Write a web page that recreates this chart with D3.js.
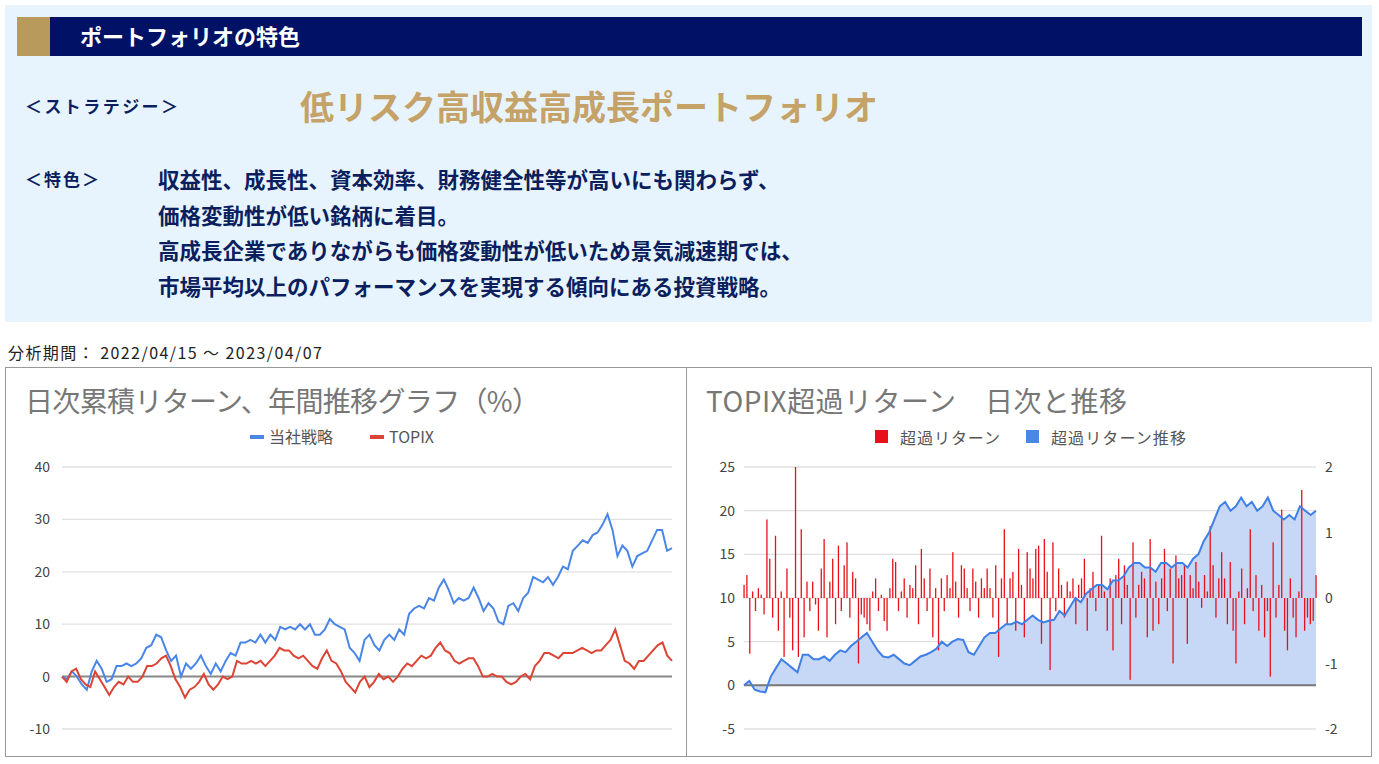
<!DOCTYPE html><html><head><meta charset="utf-8">
<script src="https://cdn.jsdelivr.net/npm/d3@7"></script>
<style>body{margin:0;background:#fff;font-family:"Noto Sans CJK JP",sans-serif}</style></head><body>
<svg id="s" width="1379" height="764"></svg>
<script>
const strategy=[0,-0.5,1,0,-1.5,-2.5,1,3,1.5,-1,-0.5,2,2,2.5,2,2.5,3.5,5.5,6,8,7.5,5,3,4,0,2.5,1.5,2.5,4,2,0.5,2.5,1,3,4.5,4,6.5,6.5,7,6.5,8,6.5,8,7,9.5,9,9.5,9,10,9,10,8,8,9,11,10,9.5,9,5.5,4.5,3,7,8,6,5,7,8,7,9,8,12,13,13.5,13,15,14.5,17,18.5,16.5,14,15,14.5,15,17,15,12.5,14,13,10.5,10,13.5,14,12.5,15,16,19,18.5,18,19,17.5,19,21,20.5,24,25,26,25.5,27,27.5,29,31,28,23,25,24,21,23,23.5,24,26,28,28,24,24.5];
const topix=[0,-1,1,1.5,-0.5,-1.5,-2,1,-0.5,-2,-3.5,-2,-1,-1.5,0,-1,-1,0,2,2,2.5,3.5,4,2,-0.5,-2,-4,-2.5,-2,-1,0.5,-1.5,-2.5,-1.5,0,-0.5,0,3,2.5,2.5,3,2.5,3,2,3,4,5.5,5,5,4,3.5,4,3,2,1.5,3.5,5,3,2.5,1,-1,-2,-3,-1,0,-2,-1,0.5,-0.5,0,-1,0,1.5,2.5,2,3,4,3.5,4,5.5,6.5,5,4.5,3,2.5,3,3.5,3.5,2,0,0,0.5,0,0,-1,-1.5,-1,0,0.5,-0.5,2,3,4.5,4.5,4,3.5,4.5,4.5,4.5,5,5.5,5,4.5,5,5,6,7,9,6,3,2.5,1.5,3,3,4,5,6,6.5,4,3];
const excessCum=[0,0.5,-0.5,-0.7,-0.8,1,2,3,2.5,2,1.5,3.5,3.5,3,3,3.3,2.8,3.5,4,3.8,4.5,5,5.5,6,5,4,3.3,3.2,3.5,3,2.5,2.3,2.8,3.3,3.5,3.8,4.2,5,4.5,5,5.3,5.2,3.8,3.5,4.5,5.5,6,6,6.5,7,7,7.3,7,7.5,8,7.5,7.2,7.4,7.5,8.5,8,9,10,9.5,10.5,11,11.5,11.5,11,12,12,12.5,13.5,14,14,13.5,13.5,13,14,14,13.5,14,14,13.5,14.5,15,16.5,17.5,19,20.5,21,20,20.5,21.5,20.5,21,20,20.5,21.5,20,19.5,19,19.5,19,20.5,20,19.5,20];
const excessDaily=[0.2,0.35,-0.85,0.1,-0.2,0.15,0.05,-0.25,1.2,0.6,-0.3,0.95,-0.5,0.1,-0.9,0.45,-0.3,-0.8,2.0,-0.9,1.05,-0.6,0.25,-0.2,0.25,-0.1,-0.5,0.45,0.9,-0.6,0.25,0.6,-0.4,0.8,-0.2,0.5,0.85,-0.3,0.4,0.3,-1.0,-0.25,-0.3,-0.4,-0.5,0.1,0.3,-0.2,0.05,-0.35,-0.5,0.15,0.6,0.55,-0.2,0.1,0.3,-0.3,0.2,0.15,0.5,-0.4,0.75,0.3,-0.2,0.45,-0.6,0.15,-0.8,0.3,-0.2,0.35,0.15,0.7,0.25,-0.3,0.5,0.45,0.15,-0.2,0.45,0.25,-0.3,0.3,0.15,0.45,0.15,-0.3,0.5,-0.9,0.3,1.05,-0.4,0.3,0.4,-0.5,0.75,0.2,-0.6,0.7,0.45,0.3,0.75,0.8,-0.7,0.9,0.4,-1.1,0.85,-0.2,0.45,0.2,-0.3,0.25,0.1,0.3,-0.4,0.2,0.3,0.6,-0.5,0.15,0.4,-0.2,0.2,0.95,0.1,-0.5,0.3,-0.8,0.35,0.6,-0.4,0.5,0.2,-1.25,0.85,-0.3,0.2,0.4,0.3,-0.6,0.9,-0.5,0.25,-0.4,0.3,0.75,-0.2,0.45,-1.0,0.65,0.3,0.35,0.5,-0.7,0.35,0.15,0.55,0.25,-0.15,0.35,0.1,1.1,0.5,-0.3,0.3,0.7,0.3,-0.4,0.55,-0.5,-1.0,0.1,0.45,-0.4,0.15,1.05,-0.2,0.35,-0.5,0.2,-0.6,-0.2,-1.2,0.85,-0.3,0.2,1.35,-0.5,-0.8,0.3,-0.3,-0.6,0.1,1.65,-0.5,-0.3,-0.4,-0.35,0.35];
const leftTicks=[-10,0,10,20,30,40], rTicksL=[-5,0,5,10,15,20,25], rTicksR=[-2,-1,0,1,2];
const featureLines=["収益性、成長性、資本効率、財務健全性等が高いにも関わらず、","価格変動性が低い銘柄に着目。","高成長企業でありながらも価格変動性が低いため景気減速期では、","市場平均以上のパフォーマンスを実現する傾向にある投資戦略。"];

const svg=d3.select("#s");
const navy="#0b1f5e";
svg.append("rect").attr("x",5).attr("y",5).attr("width",1367).attr("height",317).attr("fill","#e8f4fd");
svg.append("rect").attr("x",17).attr("y",17).attr("width",1345).attr("height",39).attr("fill","#001166");
svg.append("rect").attr("x",17).attr("y",17).attr("width",33).attr("height",39).attr("fill","#b89a5c");
svg.append("text").attr("x",80).attr("y",45).attr("fill","#fff").attr("font-size",22).attr("font-weight","bold").text("ポートフォリオの特色");
svg.append("text").attr("x",25).attr("y",113).attr("fill",navy).attr("font-size",17).attr("font-weight","bold").attr("textLength",153).text("＜ストラテジー＞");
svg.append("text").attr("x",300).attr("y",120).attr("fill","#c4a268").attr("font-size",34).attr("font-weight","bold").text("低リスク高収益高成長ポートフォリオ");
svg.append("text").attr("x",25).attr("y",186).attr("fill",navy).attr("font-size",17).attr("font-weight","bold").attr("textLength",74).text("＜特色＞");
featureLines.forEach((t,i)=>svg.append("text").attr("x",158).attr("y",188+i*35.5).attr("fill",navy).attr("font-size",21.5).attr("font-weight","bold").text(t));
svg.append("text").attr("x",8).attr("y",359).attr("fill","#222").attr("font-size",16).attr("textLength",314).text("分析期間： 2022/04/15 ～ 2023/04/07");

svg.append("rect").attr("x",5.5).attr("y",367.5).attr("width",681).attr("height",389).attr("fill","#fff").attr("stroke","#999");
svg.append("rect").attr("x",686.5).attr("y",367.5).attr("width",685).attr("height",389).attr("fill","#fff").attr("stroke","#999");

const x1=d3.scaleLinear().domain([0,1]).range([62,672]);
const y1=d3.scaleLinear().domain([-10,40]).range([729,467]);
svg.append("text").attr("x",25).attr("y",412).attr("fill","#777").attr("font-size",28).attr("textLength",515).text("日次累積リターン、年間推移グラフ（%）");
const g1=svg.append("g");
leftTicks.forEach(t=>{g1.append("line").attr("x1",62).attr("x2",672).attr("y1",y1(t)).attr("y2",y1(t)).attr("stroke",t===0?"#888":"#e0e0e0").attr("stroke-width",t===0?2:1.3);
 g1.append("text").attr("x",50).attr("y",y1(t)+5).attr("text-anchor","end").attr("fill","#444").attr("font-size",14).text(t);});
[[strategy,"#4a86e8"],[topix,"#dc4535"]].forEach(([d,c])=>{
 g1.append("path").datum(d).attr("fill","none").attr("stroke",c).attr("stroke-width",2)
 .attr("d",d3.line().x((v,i)=>x1(i/(d.length-1))).y(v=>y1(v)));});
[["当社戦略","#4a86e8",250],["TOPIX","#dc4535",370]].forEach(([t,c,x])=>{
 svg.append("rect").attr("x",x).attr("y",435).attr("width",14).attr("height",4).attr("fill",c);
 svg.append("text").attr("x",x+19).attr("y",443).attr("fill","#555").attr("font-size",16).text(t);});

const x2=d3.scaleLinear().domain([0,1]).range([744,1316]);
const yL=d3.scaleLinear().domain([-5,25]).range([729,467]);
const yR=d3.scaleLinear().domain([-2,2]).range([729,467]);
svg.append("text").attr("x",706).attr("y",412).attr("fill","#777").attr("font-size",28).attr("textLength",421).text("TOPIX超過リターン　日次と推移");
const g2=svg.append("g");
rTicksL.forEach(t=>{g2.append("line").attr("x1",744).attr("x2",1316).attr("y1",yL(t)).attr("y2",yL(t)).attr("stroke","#e0e0e0").attr("stroke-width",1.3);
 g2.append("text").attr("x",735).attr("y",yL(t)+5).attr("text-anchor","end").attr("fill","#444").attr("font-size",14).text(t);});
rTicksR.forEach(t=>g2.append("text").attr("x",1325).attr("y",yR(t)+5).attr("fill","#444").attr("font-size",14).text(t));
g2.append("path").datum(excessCum).attr("fill","#c6d8f6")
 .attr("d",d3.area().x((v,i)=>x2(i/(excessCum.length-1))).y0(yL(0)).y1(v=>yL(v)));
g2.append("line").attr("x1",744).attr("x2",1316).attr("y1",yL(0)).attr("y2",yL(0)).attr("stroke","#777").attr("stroke-width",2);
const n=excessDaily.length;
g2.selectAll(".b").data(excessDaily).enter().append("rect")
 .attr("x",(v,i)=>x2(i/(n-1))-0.6).attr("width",1.3)
 .attr("y",v=>Math.min(yR(v),yR(0))).attr("height",v=>Math.abs(yR(v)-yR(0))).attr("fill","#e8101a");
g2.append("path").datum(excessCum).attr("fill","none").attr("stroke","#3f7fe6").attr("stroke-width",2)
 .attr("d",d3.line().x((v,i)=>x2(i/(excessCum.length-1))).y(v=>yL(v)));
[["超過リターン","#e8101a",875,100],["超過リターン推移","#4a86e8",1026,135]].forEach(([t,c,x,w])=>{
 svg.append("rect").attr("x",x).attr("y",430).attr("width",13).attr("height",13).attr("fill",c);
 svg.append("text").attr("x",x+25).attr("y",444).attr("fill","#555").attr("font-size",16).attr("textLength",w).text(t);});
</script></body></html>
